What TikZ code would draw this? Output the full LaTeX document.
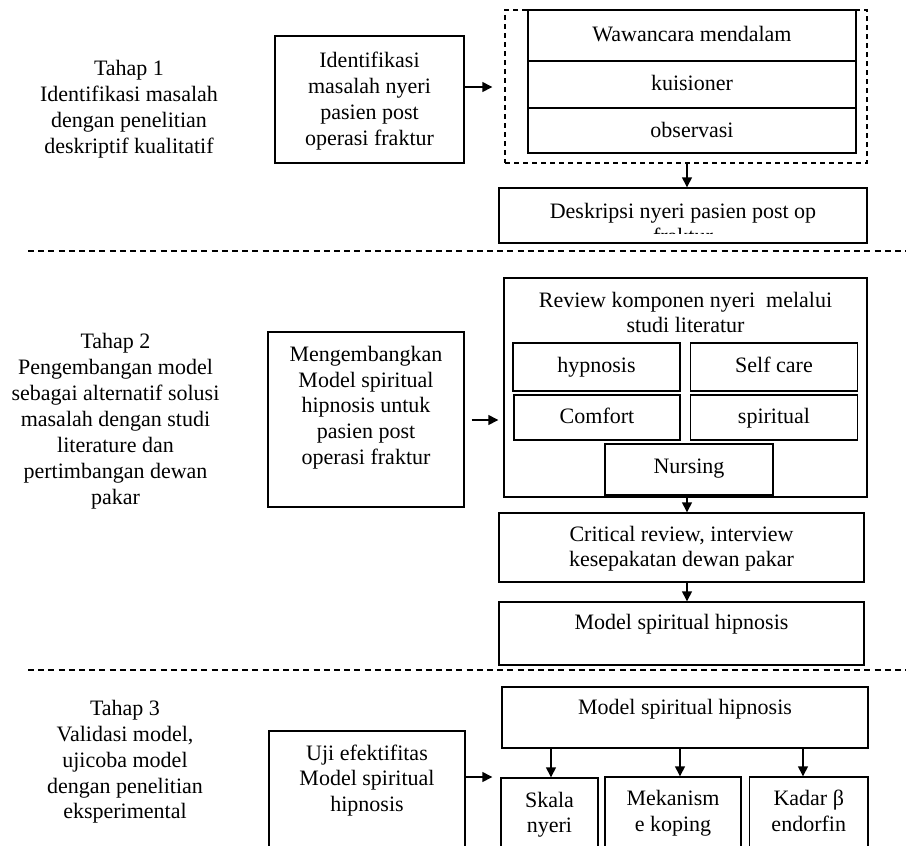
\documentclass[tikz,border=0pt]{standalone}
\usepackage{fontspec}
\setmainfont{Liberation Serif}
\newfontfamily\lblfamily[Ligatures=NoCommon]{Liberation Serif}
\usetikzlibrary{arrows.meta}
\newcommand\bxfont{\fontsize{22}{25.8}\selectfont}
\newcommand\lblfont{\lblfamily\fontsize{22}{25.9}\selectfont}
\newcommand\vs[1]{\begin{tabular}{@{}c@{}}#1\end{tabular}}
\begin{document}
\begin{tikzpicture}[x=1pt,y=-1pt,
  bx/.style={draw,line width=1.4pt,inner sep=0pt},
  dbx/.style={draw,line width=1.4pt,inner sep=0pt,dash pattern=on 5pt off 4pt},
  txt/.style={inner sep=0pt,align=center,font=\bxfont,yshift=-1.8pt},
  lbl/.style={inner sep=0pt,align=center,font=\lblfont,yshift=-2pt},
  sep/.style={line width=1.4pt,dash pattern=on 6pt off 4.2pt},
  arr/.style={line width=1.4pt,-{Triangle[length=10pt,width=10pt]}}]
\clip (0,0) rectangle (906,846);
\fill[white] (0,0) rectangle (906,846);

% left labels
\node[lbl] (t1) at (129,107.5) {\vs{Tahap 1\\Identifikasi masalah\\dengan penelitian\\deskriptif kualitatif}};
\node[lbl] (t2) at (115.5,419.5) {\vs{Tahap 2\\Pengembangan model\\sebagai alternatif solusi\\masalah dengan studi\\literature dan\\pertimbangan dewan\\pakar}};
\node[lbl] (t3) at (125,760) {\vs{Tahap 3\\Validasi model,\\ujicoba model\\dengan penelitian\\eksperimental}};

% separators
\coordinate (s1a) at (28,251); \coordinate (s1b) at (906,251);
\coordinate (s2a) at (28,670); \coordinate (s2b) at (906,670);
\draw[sep] (s1a) -- (s1b);
\draw[sep] (s2a) -- (s2b);

% section 1
\node[bx,minimum width=189pt,minimum height=127pt] (id1) at (369.5,99.5) {};
\node[txt] (id1text) at (369.5,99.5) {\vs{Identifikasi\\masalah nyeri\\pasien post\\operasi fraktur}};
\node[dbx,minimum width=362pt,minimum height=153pt] (dash) at (686,86.5) {};
\node[bx,minimum width=328pt,minimum height=51pt] (waw) at (692,35.5) {};
\node[txt] (wawtext) at (692,34.5) {\vs{Wawancara mendalam}};
\node[bx,minimum width=328pt,minimum height=47pt] (kuis) at (692,84.5) {};
\node[txt] (kuistext) at (692,83.5) {\vs{kuisioner}};
\node[bx,minimum width=328pt,minimum height=45pt] (obs) at (692,130.5) {};
\node[txt] (obstext) at (692,130.5) {\vs{observasi}};
\node[bx,minimum width=368pt,minimum height=55pt] (desk) at (683,215.5) {};
\begin{scope}
\clip (499,188) rectangle (867,233);
\node[txt] (desktext) at (683,224) {\vs{Deskripsi nyeri pasien post op\\fraktur}};
\end{scope}
\draw[arr,shorten >=12pt] (id1.east |- 0,87) -- (dash.west |- 0,87);
\coordinate (a0) at (687,163);
\draw[arr] (dash.south -| a0) -- (desk.north -| a0);

% section 2
\node[bx,minimum width=196pt,minimum height=175pt] (meng) at (366,419.5) {};
\node[txt] (mengtext) at (366,406) {\vs{Mengembangkan\\Model spiritual\\hipnosis untuk\\pasien post\\operasi fraktur}};
\node[bx,minimum width=363pt,minimum height=219pt] (rev) at (685.5,387.5) {};
\node[txt] (revtext) at (685.5,313) {\vs{Review komponen nyeri\ \ melalui\\studi literatur}};
\node[bx,minimum width=167pt,minimum height=48pt] (hyp) at (596.5,367) {};
\node[txt] (hyptext) at (596.5,366) {\vs{hypnosis}};
\node[bx,minimum width=167pt,minimum height=48pt] (self) at (774,367) {};
\node[txt] (selftext) at (774,366) {\vs{Self care}};
\node[bx,minimum width=166pt,minimum height=45pt] (comf) at (597,417.5) {};
\node[txt] (comftext) at (597,417) {\vs{Comfort}};
\node[bx,minimum width=167pt,minimum height=45pt] (spir) at (774,417.5) {};
\node[txt] (spirtext) at (774,417) {\vs{spiritual}};
\node[bx,minimum width=168pt,minimum height=51pt] (nurs) at (689,469.5) {};
\node[txt] (nurstext) at (689,467) {\vs{Nursing}};
\node[bx,minimum width=365pt,minimum height=69pt] (crit) at (681.5,547.5) {};
\node[txt] (crittext) at (681.5,547) {\vs{Critical review, interview\\kesepakatan dewan pakar}};
\node[bx,minimum width=365pt,minimum height=63pt] (mod1) at (681.5,633.5) {};
\node[txt] (mod1text) at (681.5,623) {\vs{Model spiritual hipnosis}};
\draw[arr,shorten <=7pt,shorten >=5pt] (meng.east |- 0,420) -- (rev.west |- 0,420);
\coordinate (a1) at (687,496);
\draw[arr] (rev.south -| a1) -- (crit.north -| a1);
\draw[arr] (crit.south -| a1) -- (mod1.north -| a1);

% section 3
\node[bx,minimum width=366pt,minimum height=61pt] (mod2) at (685,717.5) {};
\node[txt] (mod2text) at (685,708) {\vs{Model spiritual hipnosis}};
\node[bx,minimum width=97pt,minimum height=120pt] (skala) at (549.5,838) {};
\node[txt] (skalatext) at (549.5,813) {\vs{Skala\\nyeri}};
\node[bx,minimum width=136pt,minimum height=120pt] (mek) at (673,837) {};
\node[txt] (mektext) at (673,811.5) {\vs{Mekanism\\e koping}};
\node[bx,minimum width=118.5pt,minimum height=120pt] (kadar) at (808.75,837) {};
\node[txt] (kadartext) at (808.75,811.5) {\vs{Kadar β\\endorfin}};
\node[bx,minimum width=196pt,minimum height=160pt] (uji) at (367,811) {};
\node[txt] (ujitext) at (367,779) {\vs{Uji efektifitas\\Model spiritual\\hipnosis}};
\draw[arr] (mod2.south -| 551,0) -- (skala.north -| 551,0);
\draw[arr] (mod2.south -| 680,0) -- (mek.north -| 680,0);
\draw[arr] (mod2.south -| 803,0) -- (kadar.north -| 803,0);
\draw[arr,shorten >=8pt] (uji.east |- 0,777) -- (skala.west |- 0,777);
\end{tikzpicture}
\end{document}
